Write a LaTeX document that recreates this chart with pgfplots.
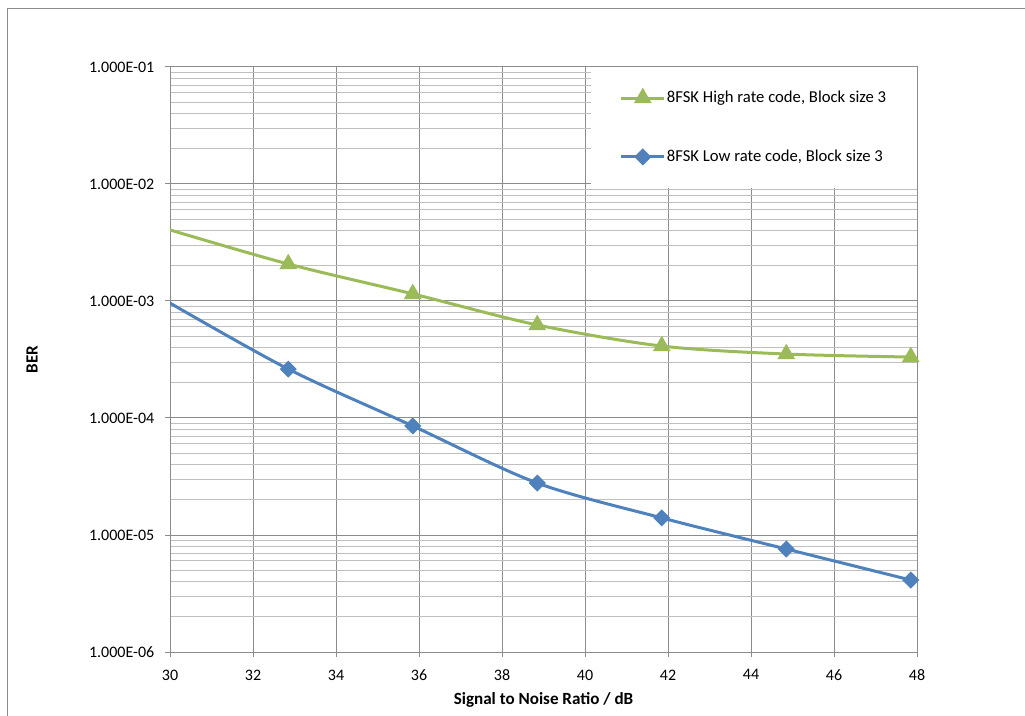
\documentclass[border=0pt]{standalone}
\usepackage{pgfplots}
\pgfplotsset{compat=1.18}
\usepackage{fontspec}
\setmainfont{Carlito}
\definecolor{exgreen}{HTML}{9BBB59}
\definecolor{exblue}{HTML}{4F81BD}
\definecolor{majgrid}{HTML}{8C8C8C}
\definecolor{mingrid}{HTML}{BFBFBF}
\begin{document}
\begin{tikzpicture}
\path[use as bounding box] (0,0) rectangle (768.75pt,537pt);
\draw[color=majgrid,line width=1.2pt] (5.6pt,0) -- (5.6pt,530.6pt) -- (768.75pt,530.6pt);
\begin{axis}[
  at={(127.5pt,48pt)}, anchor=south west,
  scale only axis, width=560.25pt, height=438.75pt,
  xmin=30, xmax=48, ymin=1e-6, ymax=1e-1,
  ymode=log,
  xtick={30,32,...,48},
  ytick={1e-6,1e-5,1e-4,1e-3,1e-2,1e-1},
  yticklabels={1.000E-06,1.000E-05,1.000E-04,1.000E-03,1.000E-02,1.000E-01},
  /pgf/number format/assume math mode=true,
  tick label style={font=\fontsize{12}{14}\selectfont, text=black},
  yticklabel style={xshift=-4.5pt},
  xticklabel style={yshift=-6pt},
  xtick pos=bottom, ytick pos=left,
  tick align=outside,
  major tick length=3.75pt, minor tick length=0pt,
  tick style={majgrid, line width=0.75pt},
  axis line style={majgrid, line width=0.75pt},
  grid=both,
  major grid style={majgrid, line width=0.75pt},
  minor grid style={mingrid, line width=0.75pt},
  xlabel={\textbf{Signal to Noise Ratio / dB}},
  ylabel={\textbf{BER}},
  label style={font=\fontsize{12.8}{15}\selectfont},
  xlabel style={at={(rel axis cs:0.5,0)}, anchor=center, yshift=-36pt},
  ylabel style={at={(rel axis cs:-0.1847,0.5)}, anchor=center},
  legend style={at={(rel axis cs:1,1)}, anchor=north east, draw=none, fill=white,
    inner xsep=22pt, inner ysep=16pt, row sep=30pt,
    nodes={inner xsep=1pt},
    font=\fontsize{12.5}{15}\selectfont, cells={anchor=west}},
  legend image code/.code={\draw (0pt,0pt) -- (32pt,0pt); \draw[mark indices={2}] plot coordinates {(0pt,0pt) (16pt,0pt) (32pt,0pt)};},
]
\addplot[exgreen, line width=2.25pt, smooth, mark=triangle*, mark size=5.5pt, mark indices={1,2,3,4,5,6}, mark options={solid}]
coordinates {(29.85,4.2e-3) (32.85,2.07e-3) (35.85,1.15e-3) (38.85,6.24e-4) (41.85,4.12e-4) (44.85,3.52e-4) (47.85,3.32e-4)};
\addlegendentry{8FSK High rate code, Block size 3}
\addplot[exblue, line width=2.25pt, smooth, mark=square*, mark size=3.4pt, mark indices={1,2,3,4,5,6}, mark options={solid, rotate=45}]
coordinates {(29.85,1.03e-3) (32.85,2.62e-4) (35.85,8.55e-5) (38.85,2.78e-5) (41.85,1.40e-5) (44.85,7.59e-6) (47.85,4.12e-6)};
\addlegendentry{8FSK Low rate code, Block size 3}
\end{axis}
\end{tikzpicture}
\end{document}
